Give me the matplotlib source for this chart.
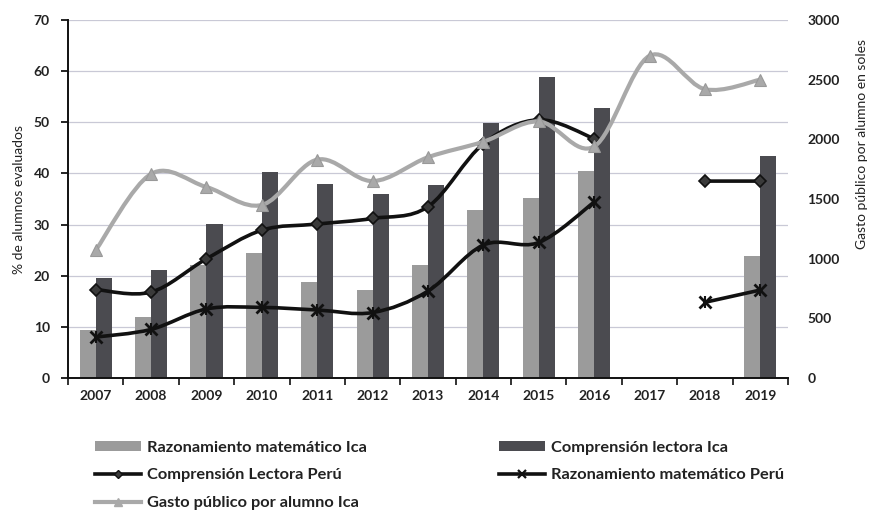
import numpy as np
import matplotlib
matplotlib.use("Agg")
import matplotlib.pyplot as plt
from matplotlib.path import Path
from matplotlib.patches import PathPatch
from matplotlib.lines import Line2D
from matplotlib.patches import Patch

plt.rcParams['font.family'] = ['Lato', 'DejaVu Sans']
plt.rcParams['font.weight'] = 'bold'

years = ['2007', '2008', '2009', '2010', '2011', '2012', '2013',
         '2014', '2015', '2016', '2017', '2018', '2019']
nan = np.nan
rm_ica = [9.3, 12.0, 22.0, 24.5, 18.8, 17.2, 22.0, 32.8, 35.2, 40.5, nan, nan, 23.8]
cl_ica = [19.5, 21.2, 30.2, 40.2, 38.0, 36.0, 37.8, 49.8, 58.8, 52.8, nan, nan, 43.5]
cl_peru = [17.3, 16.8, 23.3, 28.9, 30.1, 31.2, 33.5, 45.8, 50.5, 46.8, nan, 38.5, 38.5]
rm_peru = [8.0, 9.5, 13.5, 13.8, 13.3, 12.8, 17.0, 26.0, 26.5, 34.4, nan, 14.8, 17.2]
gasto = [1070, 1710, 1600, 1450, 1830, 1650, 1850, 1980, 2150, 1940, 2700, 2420, 2500]

LIGHT = '#9b9b9b'
DARK = '#4b4b50'
GASTO = '#a9a9a9'
TXT = '#222222'


def smooth_path(xs, ys):
    n = len(xs)
    verts = [(xs[0], ys[0])]
    codes = [Path.MOVETO]
    for i in range(n - 1):
        p0 = i - 1 if i > 0 else i
        p3 = i + 2 if i + 2 < n else i + 1
        c1 = (xs[i] + (xs[i + 1] - xs[p0]) / 6.0, ys[i] + (ys[i + 1] - ys[p0]) / 6.0)
        c2 = (xs[i + 1] - (xs[p3] - xs[i]) / 6.0, ys[i + 1] - (ys[p3] - ys[i]) / 6.0)
        verts += [c1, c2, (xs[i + 1], ys[i + 1])]
        codes += [Path.CURVE4] * 3
    return Path(verts, codes)


def draw_smooth(ax, x, y, color, lw, zorder):
    x = np.asarray(x, float)
    y = np.asarray(y, float)
    ok = ~np.isnan(y)
    runs = []
    cur = []
    for i in range(len(x)):
        if ok[i]:
            cur.append(i)
        else:
            if cur:
                runs.append(cur)
            cur = []
    if cur:
        runs.append(cur)
    for r in runs:
        if len(r) < 2:
            continue
        p = smooth_path(x[r], y[r])
        ax.add_patch(PathPatch(p, facecolor='none', edgecolor=color, lw=lw,
                               zorder=zorder, capstyle='round', joinstyle='round'))


fig = plt.figure(figsize=(8.84, 5.16), dpi=100)
ax = fig.add_axes([68 / 884, 1 - 378 / 516, 720 / 884, 358 / 516])
x = np.arange(len(years))
w = 0.29

ax.bar(x - w / 2, rm_ica, width=w, color=LIGHT, zorder=2)
ax.bar(x + w / 2, cl_ica, width=w, color=DARK, zorder=2)

draw_smooth(ax, x, cl_peru, '#111111', 2.6, 3)
draw_smooth(ax, x, rm_peru, '#111111', 2.6, 3)
ax.plot(x, cl_peru, linestyle='none', marker='D', markersize=6.5,
        markerfacecolor='#3a3a3a', markeredgecolor='#111111', markeredgewidth=1.2, zorder=4)
ax.plot(x, rm_peru, linestyle='none', marker='x', markersize=9,
        markeredgecolor='#111111', markeredgewidth=2.0, zorder=4)
ax.plot(x, rm_peru, linestyle='none', marker='|', markersize=9,
        markeredgecolor='#111111', markeredgewidth=1.5, zorder=4)

ax.set_xlim(-0.5, len(years) - 0.5)
ax.set_ylim(0, 70)
ax.set_yticks(np.arange(0, 71, 10))
ax.grid(axis='y', color='#c9c9d6', lw=0.9, zorder=0)
ax.set_axisbelow(True)
ax.set_xticks(x)
ax.set_xticklabels(years, fontsize=10, color=TXT)
ax.set_xticks(np.arange(-0.5, len(years), 1), minor=True)
ax.tick_params(axis='x', which='major', length=0, pad=9)
ax.tick_params(axis='x', which='minor', length=5, width=1.2, direction='out', color='#111111')
ax.tick_params(axis='y', length=5, width=1.2, direction='out', labelsize=10, labelcolor=TXT, pad=8)
for s in ['top', 'right']:
    ax.spines[s].set_visible(False)
for s in ['left', 'bottom']:
    ax.spines[s].set_linewidth(1.4)
    ax.spines[s].set_color('#111111')
ax.set_ylabel('% de alumnos evaluados', fontsize=10, color=TXT, labelpad=6,
              fontweight='normal')

ax2 = ax.twinx()
ax2.set_ylim(0, 3000)
ax2.set_yticks(np.arange(0, 3001, 500))
ax2.tick_params(axis='y', length=0, labelsize=10, labelcolor=TXT, pad=14)
for s in ['top', 'right', 'left', 'bottom']:
    ax2.spines[s].set_visible(False)
draw_smooth(ax2, x, gasto, GASTO, 3.0, 5)
ax2.plot(x, gasto, linestyle='none', marker='^', markersize=9,
         markerfacecolor=GASTO, markeredgecolor='#999999', markeredgewidth=0.8, zorder=6)
ax2.set_ylabel('Gasto público por alumno en soles', fontsize=10, color=TXT, rotation=90,
               fontweight='normal')
ax2.yaxis.set_label_coords(1.095, 0.655)

handles = [
    Patch(facecolor=LIGHT, edgecolor='none'),
    Line2D([], [], color='#111111', lw=2.6, marker='D', markersize=4,
           markerfacecolor='#3a3a3a'),
    Line2D([], [], color=GASTO, lw=3.0, marker='^', markersize=6,
           markerfacecolor=GASTO),
    Patch(facecolor=DARK, edgecolor='none'),
    Line2D([], [], color='#111111', lw=2.6, marker='x', markersize=6, markeredgewidth=1.6),
]
labels = ['Razonamiento matemático Ica', 'Comprensión Lectora Perú',
          'Gasto público por alumno Ica', 'Comprensión lectora Ica',
          'Razonamiento matemático Perú']
fig.legend(handles, labels, loc='upper left', bbox_to_anchor=(95 / 884, 1 - 441 / 516),
           ncol=2, frameon=False, fontsize=11.8, handlelength=2.8, handleheight=0.55,
           handletextpad=0.35, labelspacing=0.82, columnspacing=8.1,
           borderpad=0, borderaxespad=0, labelcolor=TXT)

fig.savefig('out.png', dpi=100, facecolor='white')
